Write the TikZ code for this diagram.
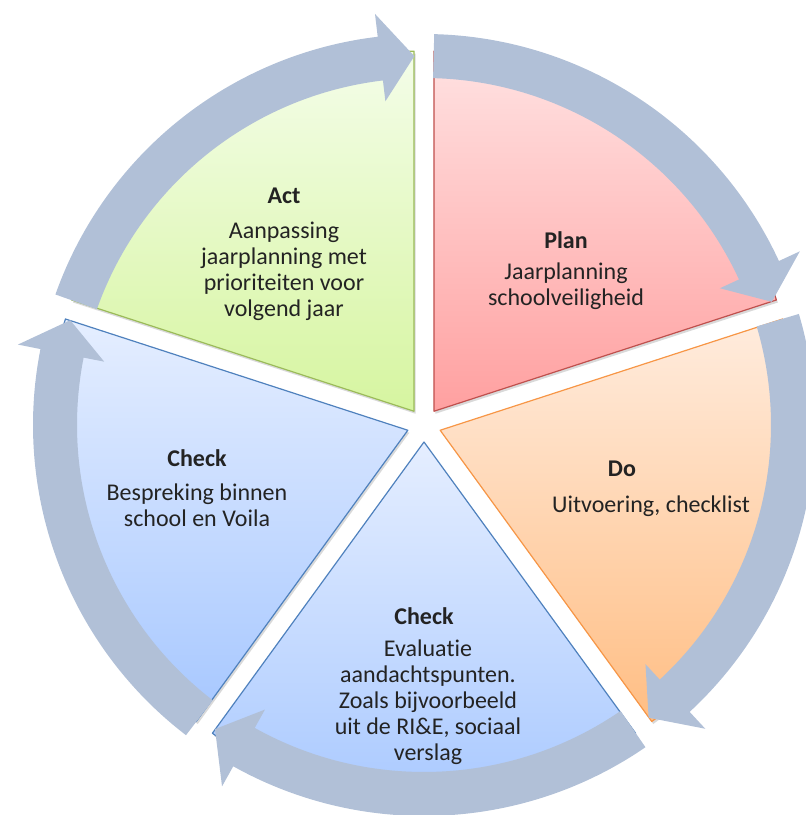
\documentclass[tikz,border=0pt]{standalone}
\usepackage{fontspec}
\setmainfont{Carlito}[Ligatures=NoCommon]
\definecolor{ringblue}{RGB}{177,192,215}
\definecolor{txt}{RGB}{35,35,35}
\definecolor{acttop}{RGB}{244,253,233}\definecolor{actbot}{RGB}{214,245,160}\definecolor{actline}{RGB}{155,187,89}
\definecolor{plantop}{RGB}{255,226,226}\definecolor{planbot}{RGB}{255,160,160}\definecolor{planline}{RGB}{192,80,77}
\definecolor{dotop}{RGB}{255,236,222}\definecolor{dobot}{RGB}{255,190,132}\definecolor{doline}{RGB}{247,150,70}
\definecolor{chktop}{RGB}{229,238,255}\definecolor{chkbot}{RGB}{166,199,255}\definecolor{chkline}{RGB}{79,129,189}
\begin{document}
\begin{tikzpicture}[x=1pt,y=1pt,line join=round,
  ring/.style={fill=ringblue},
  sect/.style={line width=1.2pt},
  title/.style={font=\fontsize{24}{26}\selectfont\bfseries,text=txt,inner sep=0pt,anchor=base},
  body/.style={font=\fontsize{24}{26}\selectfont,align=center,text=txt,inner sep=0pt,anchor=north}]
\def\cx{424}\def\cy{390}\def\off{17}\def\rs{360}
\def\rin{347}\def\rout{391}\def\rmid{369}\def\win{326}\def\wout{414}
\useasboundingbox (0,0) rectangle (806,815);
\begin{scope}[shift={(\cx,\cy)}]
\foreach \b in {126,54,-18,-90,-162}
  \fill[black,opacity=0.15,shift={(1.5,-2.5)}] (\b:\off) -- ++(\b+36:\rs) arc[start angle=\b+36,end angle=\b-36,radius=\rs] -- cycle;
\foreach \b/\sc in {126/act,54/plan,-18/do,-90/chk,-162/chk}
  \draw[sect,draw=\sc line,top color=\sc top,bottom color=\sc bot] (\b:\off) -- ++(\b+36:\rs) arc[start angle=\b+36,end angle=\b-36,radius=\rs] -- cycle;
\foreach \b [evaluate=\b as \bs using \b+34.5, evaluate=\b as \bt using \b-34.5, evaluate=\b as \bh using \b-29.2] in {126,54,-18,-90,-162}
  \fill[ring] (\bs:\rout) arc[start angle=\bs,end angle=\bh,radius=\rout] -- (\bh:\wout) -- (\bt:\rmid) -- (\bh:\win) -- (\bh:\rin) arc[start angle=\bh,end angle=\bs,radius=\rin] -- cycle;
\end{scope}
\node[title] (act) at (284,611) {Act};
\node[body] (actbody) at (284,595) {\strut Aanpassing\\jaarplanning met\\prioriteiten voor\\volgend jaar};
\node[title] (plan) at (566,566) {Plan};
\node[body] (planbody) at (566,554) {\strut Jaarplanning\\schoolveiligheid};
\node[title] (do) at (622,338) {Do};
\node[body] (dobody) at (651,321) {\strut Uitvoering, checklist};
\node[title] (checkb) at (424,190) {Check};
\node[body] (checkbbody) at (428,177) {\strut Evaluatie\\aandachtspunten.\\Zoals bijvoorbeeld\\uit de RI\&E, sociaal\\verslag};
\node[title] (checkl) at (197,348) {Check};
\node[body] (checklbody) at (197,333) {\strut Bespreking binnen\\school en Voila};
\end{tikzpicture}
\end{document}
